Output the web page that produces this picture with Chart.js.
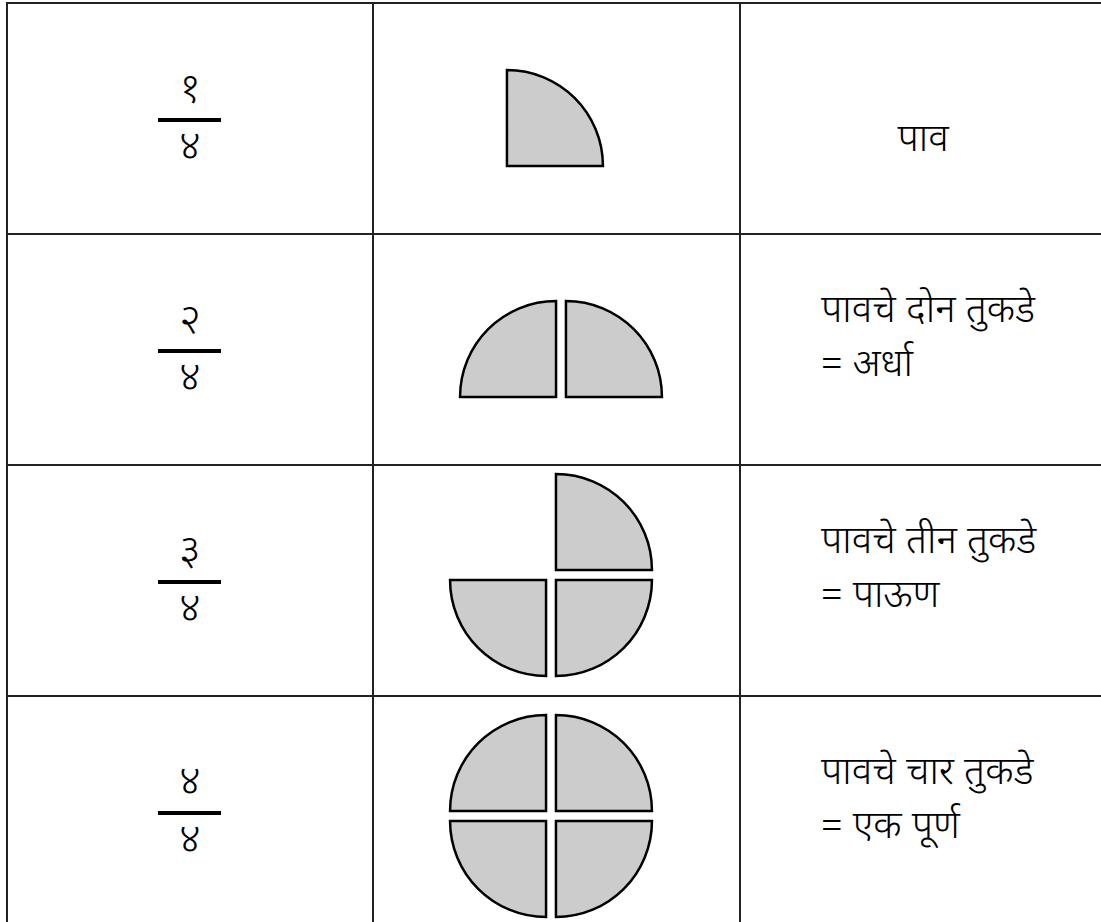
<!DOCTYPE html>
<html>
<head>
<meta charset="utf-8">
<script src="https://cdn.jsdelivr.net/npm/chart.js@4.4.1/dist/chart.umd.min.js"></script>
<style>
  html, body { margin: 0; padding: 0; background: #fff; }
  body { width: 1101px; height: 922px; overflow: hidden; position: relative;
         font-family: "Noto Sans Devanagari", "Noto Sans", "Lohit Devanagari", sans-serif; color: #000; }
  .vline { position: absolute; top: 2px; width: 1.5px; height: 930px; background: #222; }
  .hline { position: absolute; left: 6px; width: 1100px; height: 1.5px; background: #222; }
  .num { position: absolute; width: 80px; text-align: center; font-size: 42px; line-height: 42px; font-weight: 350; }
  .bar { position: absolute; width: 63px; height: 4px; background: #000; }
  .label { position: absolute; font-size: 39px; line-height: 54px; white-space: nowrap; font-weight: 350; }
  canvas { position: absolute; }
</style>
</head>
<body>
<script>
// fractions: numerators over a common denominator
const numerators = ["१", "२", "३", "४"];
const denominator = "४";

// description texts (right column), one entry per line
const descriptions = [
  ["पाव"],
  ["पावचे दोन तुकडे", "= अर्धा"],
  ["पावचे तीन तुकडे", "= पाऊण"],
  ["पावचे चार तुकडे", "= एक पूर्ण"],
];

// each circle is cut in 4 equal pieces (clockwise from 12 o'clock)
const sliceValues = [1, 1, 1, 1];
// which quarters are shown in each row: [top-right, bottom-right, bottom-left, top-left]
const shownPieces = [
  [1, 0, 0, 0],
  [1, 0, 0, 1],
  [1, 1, 1, 0],
  [1, 1, 1, 1],
];

// ---- layout only ----
const rowTop = [2, 233, 464, 695];
const rowH = 231;
const colX = [6, 372, 739];
const pieCenters = [[502, 171], [560.5, 402], [551, 574.5], [550.5, 815.5]];
const PIE_BOX = 240;

colX.forEach((x) => {
  const d = document.createElement("div");
  d.className = "vline";
  d.style.left = x + "px";
  document.body.appendChild(d);
});
rowTop.forEach((y) => {
  const d = document.createElement("div");
  d.className = "hline";
  d.style.top = y + "px";
  document.body.appendChild(d);
});

function put(cls, text, x, y) {
  const d = document.createElement("div");
  d.className = cls;
  d.textContent = text;
  d.style.left = x + "px";
  d.style.top = y + "px";
  document.body.appendChild(d);
  return d;
}

numerators.forEach((n, i) => {
  const mid = rowTop[i] + rowH / 2;
  put("num", n, 150, mid - 26 - 21);
  put("bar", "", 158, mid);
  put("num", denominator, 150, mid + 32 - 21);
});

descriptions.forEach((lines, i) => {
  if (lines.length === 1) {
    const el = put("label", lines[0], 0, rowTop[i] + 113);
    el.style.left = (923 - el.offsetWidth / 2) + "px";
  } else {
    put("label", lines.join("\n"), 821, rowTop[i] + 53).style.whiteSpace = "pre";
  }
});

shownPieces.forEach((shown, i) => {
  const cv = document.createElement("canvas");
  cv.width = PIE_BOX;
  cv.height = PIE_BOX;
  cv.style.left = (pieCenters[i][0] - PIE_BOX / 2) + "px";
  cv.style.top = (pieCenters[i][1] - PIE_BOX / 2) + "px";
  document.body.appendChild(cv);

  new Chart(cv, {
    type: "pie",
    data: {
      labels: ["1", "2", "3", "4"],
      datasets: [{
        data: sliceValues,
        backgroundColor: shown.map((s) => (s ? "#cccccc" : "rgba(0,0,0,0)")),
        borderColor: "#000",
        borderWidth: shown.map((s) => (s ? 2.5 : 0)),
        borderJoinStyle: "miter",
        offset: 28,
      }],
    },
    options: {
      responsive: false,
      animation: false,
      radius: 96,
      events: [],
      plugins: { legend: { display: false }, tooltip: { enabled: false } },
    },
  });
});
</script>
</body>
</html>
